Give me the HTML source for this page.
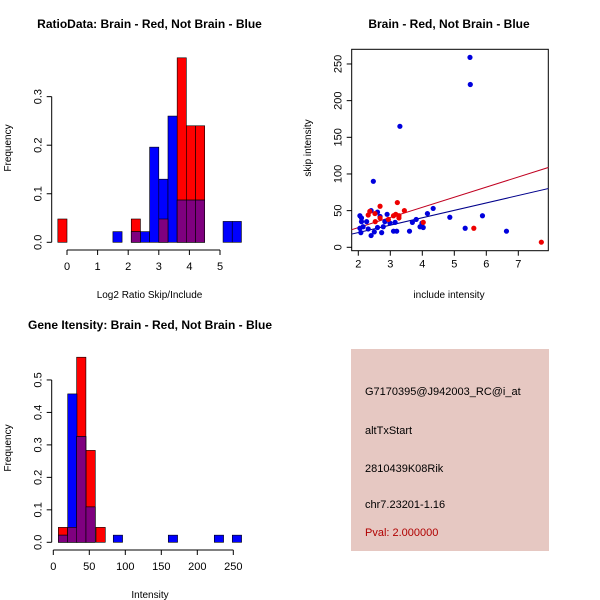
<!DOCTYPE html>
<html><head><meta charset="utf-8"><style>
body{margin:0;background:#fff}
svg{display:block;font-family:"Liberation Sans",sans-serif}
</style></head><body>
<svg id="chart" width="600" height="600" viewBox="0 0 600 600">
<g id="p1"></g>
<g id="p2"></g>
<g id="p3"></g>
<g>
<rect x="351" y="349" width="198" height="202" fill="#e6c8c2"/>
<g font-size="11" fill="#000">
<text x="365" y="395">G7170395@J942003_RC@i_at</text>
<text x="365" y="434">altTxStart</text>
<text x="365" y="472">2810439K08Rik</text>
<text x="365" y="508">chr7.23201-1.16</text>
<text x="365" y="536" fill="#b00000">Pval: 2.000000</text>
</g></g>
</svg>
<script>
// Panel 1 data: ratio histogram (bin starts, heights)
const ratioBinWidth = 0.3;
const ratioRedStarts = [-0.3, 2.1, 3.0, 3.6, 3.9, 4.2];
const ratioRedFreq = [0.048, 0.048, 0.048, 0.38, 0.24, 0.24];
const ratioBlueStarts = [1.5, 2.1, 2.4, 2.7, 3.0, 3.3, 3.6, 3.9, 4.2, 5.1, 5.4];
const ratioBlueFreq = [0.022, 0.022, 0.022, 0.196, 0.13, 0.26, 0.087, 0.087, 0.087, 0.043, 0.043];
const ratioXTicks = [0, 1, 2, 3, 4, 5];
const ratioYTicks = [0.0, 0.1, 0.2, 0.3];
// Panel 2 data: scatter
const blueX = [5.49,5.5,3.3,2.47,4.34,4.86,5.88,5.34,6.63,4.16,3.81,3.69,3.99,3.93,4.03,3.6,3.1,3.2,2.9,2.6,2.4,2.05,2.1,2.1,2.26,2.15,2.08,2.4,2.5,2.68,2.73,2.78,2.83,2.99,3.15,2.31,2.6,2.05];
const blueY = [259,222,165,90,53,41,43,26,22,46,38,34,33,28,27,22,22,22,45,48,50,43,40,35,35,28,20,16,21,42,20,28,35,33,34,25,27,26];
const redX = [7.72,5.61,3.22,3.44,2.68,2.31,2.36,2.52,2.53,2.68,2.94,3.17,3.27,3.27,4.03,3.1];
const redY = [7,26,61,50,56,44,49,46,35,40,38,45,43,40,34,43];
const redFit = [-0.7, 13.8];
const blueFit = [-0.1, 10.1];
const scatXTicks = [2,3,4,5,6,7];
const scatYTicks = [0,50,100,150,200,250];
// Panel 3 data: intensity histogram
const intBinWidth = 12.9;
const intRedStarts = [7, 20, 32.4, 45.4, 59.3];
const intRedFreq = [0.046, 0.046, 0.57, 0.283, 0.046];
const intBlueStarts = [7, 20, 32.4, 45.4, 83.3, 159.7, 223.6, 248.6];
const intBlueFreq = [0.022, 0.457, 0.326, 0.109, 0.022, 0.022, 0.022, 0.022];
const intXTicks = [0, 50, 100, 150, 200, 250];
const intYTicks = [0.0, 0.1, 0.2, 0.3, 0.4, 0.5];

const NS = "http://www.w3.org/2000/svg";
function mk(parent, tag, attrs, txt){
  const e = document.createElementNS(NS, tag);
  for (const k in attrs) e.setAttribute(k, attrs[k]);
  if (txt !== undefined) e.textContent = txt;
  parent.appendChild(e); return e;
}
function drawHist(g, sx, sy, w, redS, redF, blueS, blueF, xt, yt, xAxisY, yAxisX, title, tx, ty, xlab, xlabY, ylabX, ylabY, xfmt, yfmt){
  const base = sy(0);
  const purple = [];
  redS.forEach((s,i)=>{
    const r = mk(g,'rect',{x:sx(s),y:sy(redF[i]),width:sx(s+w)-sx(s),height:base-sy(redF[i]),fill:'#ff0000',stroke:'#000','stroke-width':0.6});
    
    
    const j = blueS.findIndex(b=>Math.abs(b-s)<1e-6);
    if (j>=0) purple.push([s, Math.min(redF[i], blueF[j])]);
  });
  blueS.forEach((s,i)=>{
    const r = mk(g,'rect',{x:sx(s),y:sy(blueF[i]),width:sx(s+w)-sx(s),height:base-sy(blueF[i]),fill:'#0000ff',stroke:'#000','stroke-width':0.6});
    
    
  });
  purple.forEach(p=>{
    const r = mk(g,'rect',{x:sx(p[0]),y:sy(p[1]),width:sx(p[0]+w)-sx(p[0]),height:base-sy(p[1]),fill:'#7f007f',stroke:'#000','stroke-width':0.6});
    
    
  });
  // x axis
  mk(g,'line',{x1:sx(xt[0]),x2:sx(xt[xt.length-1]),y1:xAxisY,y2:xAxisY,stroke:'#000'});
  xt.forEach(v=>{
    mk(g,'line',{x1:sx(v),x2:sx(v),y1:xAxisY,y2:xAxisY+5,stroke:'#000'});
    const t = mk(g,'text',{x:sx(v),y:xAxisY+20,'font-size':11,'text-anchor':'middle'},xfmt(v));
    
    
  });
  mk(g,'line',{x1:yAxisX,x2:yAxisX,y1:sy(yt[0]),y2:sy(yt[yt.length-1]),stroke:'#000'});
  yt.forEach(v=>{
    mk(g,'line',{x1:yAxisX-5,x2:yAxisX,y1:sy(v),y2:sy(v),stroke:'#000'});
    const t = mk(g,'text',{x:yAxisX-10,y:sy(v),'font-size':11,'text-anchor':'middle',transform:`rotate(-90 ${yAxisX-10} ${sy(v)})`},yfmt(v));
    
    
  });
  const ti = mk(g,'text',{x:tx,y:ty,'font-size':12,'font-weight':'bold','text-anchor':'middle'},title);
  
  
  const xl = mk(g,'text',{x:xlab[0],y:xlabY,'font-size':10,'text-anchor':'middle'},xlab[1]);
  
  
  const yl = mk(g,'text',{x:ylabX,y:ylabY,'font-size':10,'text-anchor':'middle',transform:`rotate(-90 ${ylabX} ${ylabY})`},'Frequency');
  
  
}
// Panel 1
{
  const g = document.getElementById('p1');
  const sx = v => 67 + v*30.6;
  const sy = v => 242.3 - v*485.5;
  drawHist(g,sx,sy,ratioBinWidth,ratioRedStarts,ratioRedFreq,ratioBlueStarts,ratioBlueFreq,ratioXTicks,ratioYTicks,250,51.7,
    'RatioData: Brain - Red, Not Brain - Blue',149.5,28,[149.5,'Log2 Ratio Skip/Include'],298,11,148,v=>String(v),v=>v.toFixed(1));
}
// Panel 3
{
  const g = document.getElementById('p3');
  const sx = v => 53.3 + v*0.72;
  const sy = v => 542.3 - v*324.7;
  drawHist(g,sx,sy,intBinWidth,intRedStarts,intRedFreq,intBlueStarts,intBlueFreq,intXTicks,intYTicks,550,51.7,
    'Gene Itensity: Brain - Red, Not Brain - Blue',150,329,[150,'Intensity'],598,11,448,v=>String(v),v=>v.toFixed(1));
}
// Panel 2
{
  const g = document.getElementById('p2');
  const sx = v => 358.3 + (v-2)*32;
  const sy = v => 247.3 - v*0.7333;
  const L=351.7,R=548.3,T=49.3,B=250.7;
  mk(g,'rect',{x:L,y:T,width:R-L,height:B-T,fill:'none',stroke:'#000'});
  const cp = mk(g,'clipPath',{id:'clp'}); mk(cp,'rect',{x:L,y:T,width:R-L,height:B-T});
  const lines = mk(g,'g',{'clip-path':'url(#clp)'});
  const x0=1.7,x1=8.0;
  const rl = mk(lines,'line',{x1:sx(x0),y1:sy(redFit[0]+redFit[1]*x0),x2:sx(x1),y2:sy(redFit[0]+redFit[1]*x1),stroke:'#c00020','stroke-width':1});
  
  
  const bl = mk(lines,'line',{x1:sx(x0),y1:sy(blueFit[0]+blueFit[1]*x0),x2:sx(x1),y2:sy(blueFit[0]+blueFit[1]*x1),stroke:'#00008b','stroke-width':1});
  
  
  blueX.forEach((x,i)=>{
    const c = mk(g,'circle',{cx:sx(x),cy:sy(blueY[i]),r:2.6,fill:'#0000dd'});
    
    
  });
  redX.forEach((x,i)=>{
    const c = mk(g,'circle',{cx:sx(x),cy:sy(redY[i]),r:2.6,fill:'#ee0000'});
    
    
  });
  scatXTicks.forEach(v=>{
    mk(g,'line',{x1:sx(v),x2:sx(v),y1:B,y2:B+5,stroke:'#000'});
    const t = mk(g,'text',{x:sx(v),y:B+17,'font-size':11,'text-anchor':'middle'},String(v));
    
    
  });
  scatYTicks.forEach(v=>{
    mk(g,'line',{x1:L-5,x2:L,y1:sy(v),y2:sy(v),stroke:'#000'});
    const t = mk(g,'text',{x:L-10,y:sy(v),'font-size':11,'text-anchor':'middle',transform:`rotate(-90 ${L-10} ${sy(v)})`},String(v));
    
    
  });
  const ti = mk(g,'text',{x:449,y:28,'font-size':12,'font-weight':'bold','text-anchor':'middle'},'Brain - Red, Not Brain - Blue');
  
  
  const xl = mk(g,'text',{x:449,y:298,'font-size':10,'text-anchor':'middle'},'include intensity');
  
  
  const yl = mk(g,'text',{x:311,y:148,'font-size':10,'text-anchor':'middle',transform:'rotate(-90 311 148)'},'skip intensity');
  
  
}
</script>
</body></html>
